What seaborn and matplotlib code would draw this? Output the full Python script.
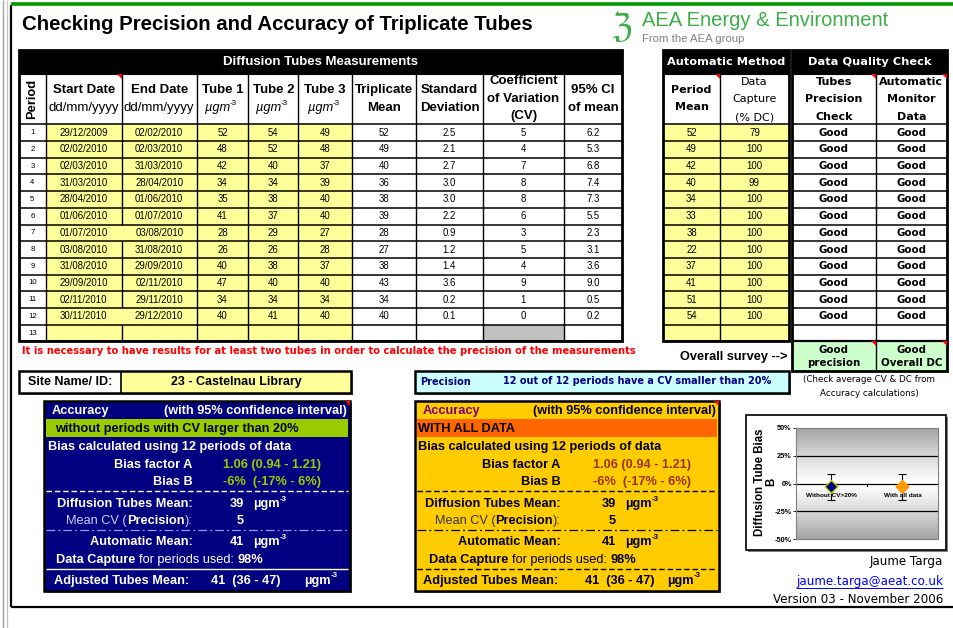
import matplotlib
matplotlib.use("Agg")
import matplotlib.pyplot as plt
import seaborn as sns
import numpy as np
import pandas as pd
from matplotlib.patches import Rectangle, Polygon
from matplotlib.colors import LinearSegmentedColormap

# ---------------- DATA ----------------
periods = list(range(1, 14))
start_dates = ["29/12/2009", "02/02/2010", "02/03/2010", "31/03/2010", "28/04/2010", "01/06/2010",
               "01/07/2010", "03/08/2010", "31/08/2010", "29/09/2010", "02/11/2010", "30/11/2010", ""]
end_dates = ["02/02/2010", "02/03/2010", "31/03/2010", "28/04/2010", "01/06/2010", "01/07/2010",
             "03/08/2010", "31/08/2010", "29/09/2010", "02/11/2010", "29/11/2010", "29/12/2010", ""]
tube1 = [52, 48, 42, 34, 35, 41, 28, 26, 40, 47, 34, 40]
tube2 = [54, 52, 40, 34, 38, 37, 29, 26, 38, 40, 34, 41]
tube3 = [49, 48, 37, 39, 40, 40, 27, 28, 37, 40, 34, 40]
triplicate_mean = [52, 49, 40, 36, 38, 39, 28, 27, 38, 43, 34, 40]
std_dev = [2.5, 2.1, 2.7, 3.0, 3.0, 2.2, 0.9, 1.2, 1.4, 3.6, 0.2, 0.1]
cv = [5, 4, 7, 8, 8, 6, 3, 5, 4, 9, 1, 0]
ci95 = [6.2, 5.3, 6.8, 7.4, 7.3, 5.5, 2.3, 3.1, 3.6, 9.0, 0.5, 0.2]
auto_mean = [52, 49, 42, 40, 34, 33, 38, 22, 37, 41, 51, 54]
data_capture = [79, 100, 100, 99, 100, 100, 100, 100, 100, 100, 100, 100]
tubes_precision = ["Good"] * 12
monitor_data = ["Good"] * 12

site_name = "23 - Castelnau Library"
n_periods = 12
bias_factor_A = 1.06
bias_factor_A_ci = (0.94, 1.21)
bias_B = -6
bias_B_ci = (-17, 6)
tubes_mean = 39
mean_cv = 5
automatic_mean = 41
dc_used = 98
adjusted_mean = 41
adjusted_ci = (36, 47)

bias_categories = ["Without CV>20%", "With all data"]
bias_values = [-3, -3]
bias_lower = [-15, -15]
bias_upper = [9, 9]
bias_colors = ["#000080", "#FF9900"]
bias_edges = ["#B8C800", "#FF9900"]

# ---------------- FIGURE ----------------
plt.rcParams["font.family"] = ["Liberation Sans", "DejaVu Sans"]
fig = plt.figure(figsize=(9.54, 6.28), dpi=100)
ax = fig.add_axes([0, 0, 1, 1])
ax.set_xlim(0, 954)
ax.set_ylim(628, 0)
ax.axis("off")

ARIAL = "Liberation Sans"
VERD = "DejaVu Sans"


def T(x, y, s, size=8, weight="normal", color="black", ha="center", va="center", family=ARIAL, **kw):
    return ax.text(x, y, s, fontsize=size, fontweight=weight, color=color, ha=ha, va=va,
                   family=family, zorder=8, **kw)


def R(x0, y0, x1, y1, fc="none", ec="black", lw=0.8, z=1):
    ax.add_patch(Rectangle((x0, y0), x1 - x0, y1 - y0, facecolor=fc, edgecolor=ec, linewidth=lw, zorder=z))


def L(x0, y0, x1, y1, color="black", lw=0.8, ls="-", z=4):
    ax.plot([x0, x1], [y0, y1], color=color, lw=lw, ls=ls, zorder=z, solid_capstyle="butt")


def tri(x, y, s=5):
    ax.add_patch(Polygon([[x - s, y], [x, y], [x, y + s]], closed=True, fc="red", ec="none", zorder=9))


def unit(x, y, size, color, weight="bold", style="normal", ha="left"):
    t = T(x, y, "µgm", size, weight, color, ha=ha, fontstyle=style)
    ax.annotate("-3", xy=(1.0, 0.9), xycoords=t, ha="left", va="center", fontsize=size * 0.62,
                fontweight=weight, color=color, family=ARIAL, zorder=8)


def chain_left(x, y, parts, size, gap=2.4):
    prev = None
    for s, w, c in parts:
        if prev is None:
            prev = ax.text(x, y, s, fontsize=size, fontweight=w, color=c, ha="left", va="center",
                           family=ARIAL, zorder=8)
        else:
            prev = ax.annotate(s, xy=(1, 0), xycoords=prev, xytext=(gap, 0), textcoords="offset points",
                               ha="left", va="bottom", fontsize=size, fontweight=w, color=c,
                               family=ARIAL, zorder=8)


def chain_right(x, y, parts, size, gap=0.0):
    prev = None
    for s, w, c in reversed(parts):
        if prev is None:
            prev = ax.text(x, y, s, fontsize=size, fontweight=w, color=c, ha="right", va="center",
                           family=ARIAL, zorder=8)
        else:
            prev = ax.annotate(s, xy=(0, 0), xycoords=prev, xytext=(-gap, 0), textcoords="offset points",
                               ha="right", va="bottom", fontsize=size, fontweight=w, color=c,
                               family=ARIAL, zorder=8)


# ---------------- PAGE FRAME ----------------
L(2.7, 0, 2.7, 628, color="#A0A0A0", lw=1.0)
L(7, 0, 7, 628, color="#C8C8C8", lw=1.0)
L(11, 5, 11, 607, color="black", lw=1.6)
L(11, 607, 954, 607, color="black", lw=1.6)
L(11, 4, 954, 4, color="#009900", lw=2.6)

T(22, 25, "Checking Precision and Accuracy of Triplicate Tubes", 14.7, "bold", ha="left")
T(622, 27, "ℨ", 24, "normal", "#3DAE49", family=VERD, fontstyle="italic")
T(642, 20, "AEA Energy & Environment", 14.5, "normal", "#3DAE49", ha="left")
T(642, 39, "From the AEA group", 8.2, "normal", "#808080", ha="left")

# ---------------- MAIN TABLE ----------------
cols = [19, 45.7, 121.7, 196.7, 248.3, 298.3, 352, 416, 483, 564, 622]
yb0, yb1, yh1 = 49.5, 74.3, 124.3
rh = 16.7
nrows = 13
ybot = yh1 + nrows * rh

R(cols[0], yb0, cols[-1], yb1, fc="black", ec="black")
T((cols[0] + cols[-1]) / 2, (yb0 + yb1) / 2 + 0.5, "Diffusion Tubes Measurements", 9.5, "bold", "white")
R(cols[0], yb1, cols[-1], ybot, fc="white", ec="none", z=0.5)
for i in range(nrows):
    y0 = yh1 + i * rh
    R(cols[1], y0, cols[6], y0 + rh, fc="#FFFF99", ec="none", z=0.8)
R(cols[8], yh1 + 12 * rh, cols[9], ybot, fc="#C0C0C0", ec="none", z=0.8)

for i in range(nrows + 1):
    L(cols[0], yh1 + i * rh, cols[-1], yh1 + i * rh, lw=1.1)
for j, cx in enumerate(cols[1:-1], start=1):
    L(cx, yb1, cx, yh1, lw=1.0)
    for i in range(nrows):
        if j == 2 and i in (6, 11):
            continue
        L(cx, yh1 + i * rh, cx, yh1 + (i + 1) * rh, lw=1.0)
R(cols[0], yb0, cols[-1], ybot, fc="none", ec="black", lw=2.0, z=5)

cc = [(cols[k] + cols[k + 1]) / 2 for k in range(len(cols) - 1)]
T(cc[0], 99, "Period", 9.3, "bold", rotation=90)
T(cc[1], 90, "Start Date", 9.5, "bold")
T(cc[1], 108, "dd/mm/yyyy", 9.5)
T(cc[2], 90, "End Date", 9.5, "bold")
T(cc[2], 108, "dd/mm/yyyy", 9.5)
for k, name in zip((3, 4, 5), ("Tube 1", "Tube 2", "Tube 3")):
    T(cc[k], 90, name, 9.5, "bold")
    unit(cc[k] - 5, 108.5, 9.3, "black", weight="normal", style="italic", ha="center")
T(cc[6], 90, "Triplicate", 9.5, "bold")
T(cc[6], 108, "Mean", 9.5, "bold")
T(cc[7], 90, "Standard", 9.5, "bold")
T(cc[7], 108, "Deviation", 9.5, "bold")
T(cc[8], 81, "Coefficient", 9.5, "bold")
T(cc[8], 98.5, "of Variation", 9.5, "bold")
T(cc[8], 116, "(CV)", 9.5, "bold")
T(cc[9], 90, "95% CI", 9.5, "bold")
T(cc[9], 108, "of mean", 9.5, "bold")
tri(cols[2], yb1)

for i in range(nrows):
    yc = yh1 + (i + 0.5) * rh
    T(cc[0], yc, str(periods[i]), 5.6)
    T(cc[1], yc, start_dates[i], 6.9)
    T(cc[2], yc, end_dates[i], 6.9)
    if i < 12:
        T(cc[3], yc, str(tube1[i]), 6.9)
        T(cc[4], yc, str(tube2[i]), 6.9)
        T(cc[5], yc, str(tube3[i]), 6.9)
        T(cc[6], yc, str(triplicate_mean[i]), 6.9)
        T(cc[7], yc, f"{std_dev[i]:.1f}", 6.9)
        T(cc[8], yc, str(cv[i]), 6.9)
        T(cc[9], yc, f"{ci95[i]:.1f}", 6.9)

T(22, 351, "It is necessary to have results for at least two tubes in order to calculate the precision of the measurements",
  7.2, "bold", "red", ha="left", family=VERD)

# ---------------- AUTOMATIC METHOD / DATA QUALITY ----------------
ra = [663, 720, 789]
rb = [792, 876, 946.7]
rhb0, rhb1 = 49.5, 73.5
for cset in (ra, rb):
    R(cset[0], rhb0, cset[-1], rhb1, fc="black", ec="black")
    R(cset[0], rhb1, cset[-1], ybot, fc="white", ec="none", z=0.5)
for i in range(nrows):
    y0 = yh1 + i * rh
    R(ra[0], y0, ra[-1], y0 + rh, fc="#FFFF99", ec="none", z=0.8)
T((ra[0] + ra[-1]) / 2, 62, "Automatic Method", 8.2, "bold", "white", family=VERD)
T((rb[0] + rb[-1]) / 2, 62, "Data Quality Check", 8.2, "bold", "white", family=VERD)
for cset in (ra, rb):
    for i in range(nrows + 1):
        L(cset[0], yh1 + i * rh, cset[-1], yh1 + i * rh, lw=1.1)
    L(cset[1], rhb1, cset[1], ybot, lw=1.0)

# overall survey
R(rb[0], ybot, rb[-1], ybot + 29.5, fc="#CCFFCC", ec="none", z=0.8)
L(rb[1], ybot, rb[1], ybot + 29.5, lw=1.0)
R(ra[0], rhb0, ra[-1], ybot, fc="none", ec="black", lw=2.0, z=5)
R(rb[0], rhb0, rb[-1], ybot + 29.5, fc="none", ec="black", lw=2.0, z=5)
L(rb[0], ybot, rb[-1], ybot, lw=1.6)

ca = [(ra[0] + ra[1]) / 2, (ra[1] + ra[2]) / 2]
cb = [(rb[0] + rb[1]) / 2, (rb[1] + rb[2]) / 2]
T(ca[0], 90, "Period", 8.0, "bold", family=VERD)
T(ca[0], 107.5, "Mean", 8.0, "bold", family=VERD)
for yy, s in zip((81.7, 99.3, 117.3), ("Data", "Capture", "(% DC)")):
    T(ca[1], yy, s, 8.0, "normal", family=VERD)
for yy, s in zip((81.7, 99.3, 117.3), ("Tubes", "Precision", "Check")):
    T(cb[0], yy, s, 8.0, "bold", family=VERD)
for yy, s in zip((81.7, 99.3, 117.3), ("Automatic", "Monitor", "Data")):
    T(cb[1], yy, s, 8.0, "bold", family=VERD)
tri(ra[1], rhb1)
tri(rb[1], rhb1)
tri(rb[2], rhb1)

for i in range(12):
    yc = yh1 + (i + 0.5) * rh
    T(ca[0], yc, str(auto_mean[i]), 6.9)
    T(ca[1], yc, str(data_capture[i]), 6.9)
    T(cb[0], yc, tubes_precision[i], 7.4, "bold", family=VERD)
    T(cb[1], yc, monitor_data[i], 7.4, "bold", family=VERD)

T(cb[0], ybot + 8.5, "Good", 7.4, "bold", family=VERD)
T(cb[0], ybot + 22, "precision", 7.4, "bold", family=VERD)
T(cb[1], ybot + 8.5, "Good", 7.4, "bold", family=VERD)
T(cb[1], ybot + 22, "Overall DC", 7.4, "bold", family=VERD)
tri(rb[1], ybot)
tri(rb[2], ybot)
T(787, 357, "Overall survey -->", 9.2, "bold", ha="right")
T(869, 380, "(Check average CV & DC from", 6.3, family=VERD)
T(869, 393, "Accuracy calculations)", 6.3, family=VERD)

# ---------------- SITE / PRECISION BOXES ----------------
R(21, 372.7, 352.7, 394.7, fc="#808080", ec="none", z=0.5)
R(19, 370.7, 121, 392.7, fc="white", ec="none")
R(121, 370.7, 350.7, 392.7, fc="#FFFF99", ec="none")
L(121, 370.7, 121, 392.7, lw=1.2)
R(19, 370.7, 350.7, 392.7, fc="none", ec="black", lw=1.8, z=5)
T(70, 381.7, "Site Name/ ID:", 9.0, "bold")
T(236, 381.7, site_name, 9.0, "bold")

R(417, 372.7, 791, 394.7, fc="#808080", ec="none", z=0.5)
R(415, 370.7, 789, 392.7, fc="#CCFFFF", ec="black", lw=1.8, z=1)
T(420, 382, "Precision", 7.0, "bold", "#000080", ha="left", family=VERD)
T(503, 381.5, f"{n_periods} out of {n_periods} periods have a CV smaller than 20%", 7.0, "bold", "#000080",
  ha="left", family=VERD)

# ---------------- ACCURACY BOXES ----------------
BY0, BY1 = 400.7, 591
FS = 9.2


def acc_box(x0, x1, fill, band_col, band_text, head_col, txt_col, val_col, light_col, lines, anchor, val_x,
            num_x, unit_x, cv_x, dc_x, adj_x, adj_val_x, adj_unit_x):
    R(x0 + 2, BY0 + 2, x1 + 2, BY1 + 2, fc="#808080", ec="none", z=0.5)
    R(x0, BY0, x1, BY1, fc=fill, ec="none", z=0.9)
    R(x0, BY0, x1, BY1, fc="none", ec="black", lw=1.8, z=5)
    tri(x1, BY0)
    T(x0 + 7.5, 411, "Accuracy", FS, "bold", head_col, ha="left")
    T(x1 - 3, 411, "(with 95% confidence interval)", FS, "bold", txt_col, ha="right")
    R(x0 + 2, 419.3, x1 - 2, 437.3, fc=band_col, ec="none", z=1)
    T(band_text[1], 428.6, band_text[0], FS, "bold", "black", ha="left")
    T(x0 + 3.5, 447.3, f"Bias calculated using {n_periods} periods of data", FS, "bold", txt_col, ha="left")
    T(anchor, 465, "Bias factor A", FS, "bold", txt_col, ha="right")
    T(val_x, 465, f"{bias_factor_A:.2f} ({bias_factor_A_ci[0]:.2f} - {bias_factor_A_ci[1]:.2f})", FS, "bold",
      val_col, ha="left")
    T(anchor, 481.7, "Bias B", FS, "bold", txt_col, ha="right")
    T(val_x, 481.7, f"{bias_B}%  ({bias_B_ci[0]}% - {bias_B_ci[1]}%)", FS, "bold", val_col, ha="left")
    L(x0 + 2, 491, x1 - 2, 491, color=lines[0], lw=1.0, ls=(0, (4, 2)))
    T(anchor, 504, "Diffusion Tubes Mean:", FS, "bold", txt_col, ha="right")
    T(num_x, 504, str(tubes_mean), FS, "bold", txt_col, ha="left")
    unit(unit_x, 504, FS, txt_col)
    chain_right(anchor, 521, [("Mean CV (", "normal", light_col), ("Precision", "bold", txt_col),
                              ("):", "normal", light_col)], FS)
    T(cv_x, 521, str(mean_cv), FS, "bold", txt_col)
    L(x0 + 2, 530, x1 - 2, 530, color=lines[1], lw=0.9, ls=(0, (7, 2.5, 1.5, 2.5)))
    T(anchor, 542.3, "Automatic Mean:", FS, "bold", txt_col, ha="right")
    T(num_x, 542.3, str(automatic_mean), FS, "bold", txt_col, ha="left")
    unit(unit_x, 542.3, FS, txt_col)
    chain_left(dc_x, 560, [("Data Capture", "bold", txt_col), ("for periods used:", "normal", txt_col),
                           (f"{dc_used}%", "bold", txt_col)], FS)
    L(x0 + 2, 568.7, x1 - 2, 568.7, color=lines[2][0], lw=1.0, ls=lines[2][1])
    T(adj_x, 580.7, "Adjusted Tubes Mean:", FS, "bold", txt_col, ha="left")
    T(adj_val_x, 580.7, f"{adjusted_mean}  ({adjusted_ci[0]} - {adjusted_ci[1]})", FS, "bold", txt_col, ha="left")
    unit(adj_unit_x, 580.7, FS, txt_col)


acc_box(44.3, 350, "#000080", "#99CC00", ("without periods with CV larger than 20%", 55), "white", "white",
        "#99CC00", "#CCCCFF", ["white", "#9999FF", ("white", "-")], 192.5, 222.7,
        230, 253, 240, 56, 54, 210.7, 304)
acc_box(415, 719.3, "#FFCC00", "#FF6600", ("WITH ALL DATA", 418.3), "#800080", "black",
        "#993300", "#333333", ["black", "black", ("black", (0, (4, 2)))], 560.7, 592.7,
        601.7, 625, 612, 429.3, 422.7, 585, 666.7)

# ---------------- BIAS CHART ----------------
R(748, 417, 948, 552, fc="#808080", ec="none", z=0.5)
R(746, 415, 946, 550, fc="white", ec="black", lw=1.2, z=1)
T(760, 482, "Diffusion Tube Bias", 8.3, "bold", rotation=90)
T(771.5, 482, "B", 8.3, "bold", rotation=90)

cax = fig.add_axes([796 / 954, 1 - 539 / 628, 142 / 954, 111 / 628])
df_bias = pd.DataFrame({"category": bias_categories, "bias": bias_values,
                        "lower": bias_lower, "upper": bias_upper})
grad = np.abs(np.linspace(-1, 1, 256))[:, None] ** 1.2
gcmap = LinearSegmentedColormap.from_list("g", ["#FFFFFF", "#A4A4A4"])
sns.scatterplot(data=df_bias, x="category", y="bias", hue="category", palette=bias_colors, marker="D",
                s=42, legend=False, ax=cax, zorder=5, linewidth=1.0)
cax.collections[-1].set_edgecolor(bias_edges)
cax.errorbar(df_bias["category"], df_bias["bias"],
             yerr=[df_bias["bias"] - df_bias["lower"], df_bias["upper"] - df_bias["bias"]],
             fmt="none", ecolor="black", elinewidth=0.8, capsize=3, capthick=0.8, zorder=4)
cax.set_xlim(-0.5, 1.5)
cax.set_ylim(-50, 50)
cax.imshow(grad, extent=(-0.5, 1.5, -50, 50), aspect="auto", cmap=gcmap, vmin=0, vmax=1, zorder=0)
for yv in (-25, 0, 25):
    cax.axhline(yv, color="black", lw=0.9, zorder=1)
cax.plot([0.5, 0.5], [0, -2.5], color="black", lw=0.8, zorder=2)
cax.set_yticks([-50, -25, 0, 25, 50])
cax.set_yticklabels(["-50%", "-25%", "0%", "25%", "50%"], fontsize=5.3, fontweight="bold")
cax.tick_params(axis="y", length=2, width=0.6, pad=1)
cax.set_xticks([])
cax.set_xlabel("")
cax.set_ylabel("")
for sp in cax.spines.values():
    sp.set_color("#808080")
    sp.set_linewidth(0.8)
for k, lab in enumerate(bias_categories):
    cax.text(k, -11, lab, fontsize=4.6, fontweight="bold", ha="center", va="center", zorder=6,
             family=ARIAL)

# ---------------- FOOTER ----------------
T(943, 561, "Jaume Targa", 8.6, ha="right", family=VERD)
email = T(943, 581.5, "jaume.targa@aeat.co.uk", 8.6, color="#0000FF", ha="right", family=VERD)
T(943, 599.5, "Version 03 - November 2006", 8.6, ha="right", family=VERD)

fig.canvas.draw()
bb = email.get_window_extent(renderer=fig.canvas.get_renderer())
x_left = bb.x0 * 954 / fig.bbox.width
L(x_left, 587.5, 943, 587.5, color="#0000FF", lw=0.7)

fig.savefig("out.png", dpi=100)
